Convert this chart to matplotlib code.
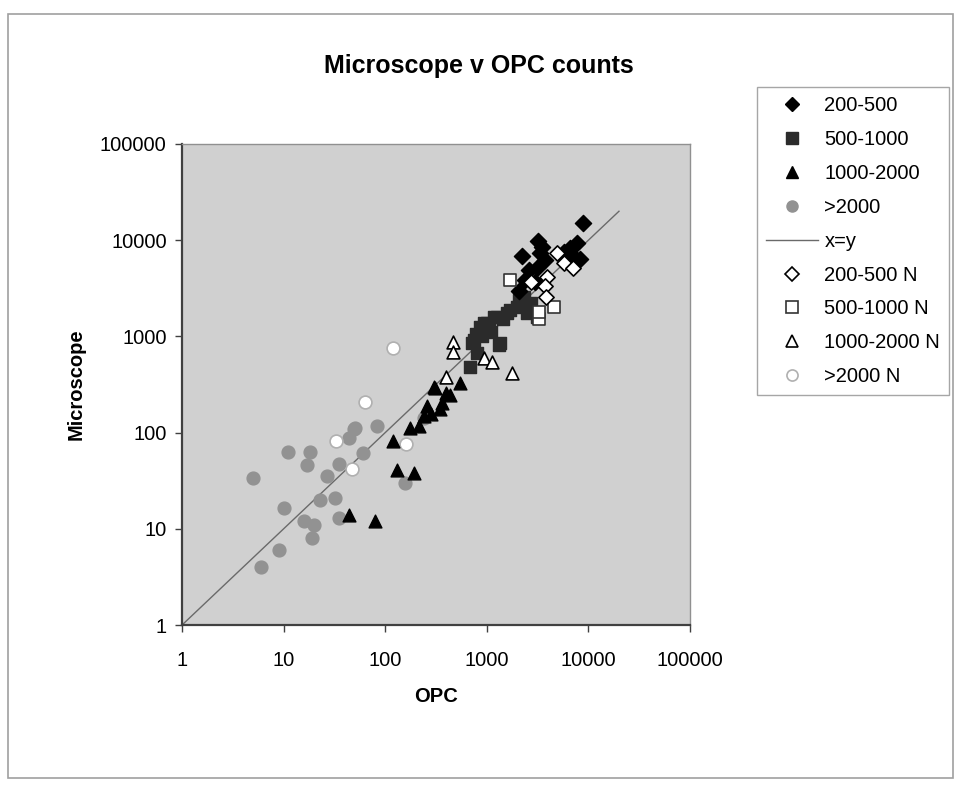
import matplotlib
matplotlib.use("Agg")
import matplotlib.pyplot as plt
from matplotlib.lines import Line2D
from matplotlib.patches import Rectangle

plt.rcParams['font.family'] = ['Liberation Sans', 'DejaVu Sans']

# size class 200-500
d_x = [8800, 3200, 2220, 3500, 7700, 6600, 5700, 8300, 7100, 3130, 2600, 3770, 3370, 2400, 3000, 2060]
d_y = [15200, 9800, 6860, 8500, 9300, 8200, 7600, 6450, 6800, 5100, 4900, 6220, 7300, 3860, 3710, 3000]
dn_x = [4900, 5800, 7100, 2750, 3920, 3700, 3800]
dn_y = [7300, 5750, 5100, 3710, 4170, 3320, 2550]

# size class 500-1000
sq_x = [715, 687, 863, 1260, 1360, 1700, 2060, 2490, 1000, 800, 3130, 2300, 740, 930,
        1310, 1167, 1585, 1990, 2140, 900, 1100, 780, 1050, 1450, 2700]
sq_y = [850, 484, 1260, 1590, 850, 1880, 2390, 1740, 1370, 667, 1590, 2570, 915, 1370,
        813, 1590, 1740, 2040, 2570, 1000, 1100, 1050, 1200, 1500, 2200]
sqn_x = [1700, 4540, 3240, 3240]
sqn_y = [3860, 2040, 1530, 1780]

# size class 1000-2000
tr_x = [44, 80, 130, 190, 120, 176, 214, 257, 310, 347, 437, 548, 300, 363, 240, 280, 400]
tr_y = [14, 12, 41, 38, 82, 111, 116, 190, 290, 178, 246, 330, 300, 202, 150, 155, 260]
trn_x = [470, 470, 400, 930, 1120, 1770]
trn_y = [880, 690, 380, 590, 545, 414]

# size class >2000
c_x = [5, 6, 9, 11, 10, 18, 17, 27, 35, 23, 32, 16, 20, 19, 35, 61, 50, 83, 44, 157, 240, 49]
c_y = [34, 4, 6, 63, 16.5, 63, 46, 35, 47, 20, 21, 12, 11, 8, 13, 61, 113, 117, 87, 30, 141, 110]
cn_x = [120, 63, 33, 47, 160]
cn_y = [750, 210, 82, 42, 77]

line_xy = [1, 20000]

fig = plt.figure(figsize=(9.55, 7.86), dpi=100)
fig.patch.set_facecolor('white')
fig.patches.append(Rectangle((8 / 955, 8 / 786), 945 / 955, 764 / 786, transform=fig.transFigure,
                             fill=False, edgecolor='#a0a0a0', linewidth=1.2))

ax = fig.add_axes([0.1906, 0.2048, 0.5319, 0.612])
ax.set_facecolor('#d0d0d0')
ax.set_xscale('log')
ax.set_yscale('log')
ax.set_xlim(1, 100000)
ax.set_ylim(1, 100000)

ms = 85
ax.plot(line_xy, line_xy, color='#6a6a6a', linewidth=1.0, zorder=2)
ax.scatter(c_x, c_y, marker='o', s=ms, color='#929292', edgecolors='#929292', zorder=3)
ax.scatter(cn_x, cn_y, marker='o', s=ms, facecolors='white', edgecolors='#b0b0b0', linewidths=1.2, zorder=3)
ax.scatter(tr_x, tr_y, marker='^', s=ms, color='black', zorder=4)
ax.scatter(sq_x, sq_y, marker='s', s=ms, color='#2b2b2b', zorder=4)
ax.scatter(d_x, d_y, marker='D', s=68, color='black', zorder=4)
ax.scatter(trn_x, trn_y, marker='^', s=ms, facecolors='white', edgecolors='black', linewidths=1.2, zorder=5)
ax.scatter(sqn_x, sqn_y, marker='s', s=ms, facecolors='white', edgecolors='#333333', linewidths=1.2, zorder=5)
ax.scatter(dn_x, dn_y, marker='D', s=60, facecolors='white', edgecolors='black', linewidths=1.2, zorder=5)

ticks = [1, 10, 100, 1000, 10000, 100000]
ax.set_xticks(ticks)
ax.set_xticklabels([str(t) for t in ticks])
ax.set_yticks(ticks)
ax.set_yticklabels([str(t) for t in ticks])
ax.minorticks_off()
ax.tick_params(axis='both', direction='out', length=5, width=1, color='#404040',
               labelsize=14.5)
ax.tick_params(axis='y', pad=6)
ax.tick_params(axis='x', pad=14)

for side in ['left', 'bottom']:
    ax.spines[side].set_color('#404040')
    ax.spines[side].set_linewidth(1.6)
for side in ['top', 'right']:
    ax.spines[side].set_color('#909090')
    ax.spines[side].set_linewidth(1.0)

ax.set_xlabel('OPC', fontsize=14.5, fontweight='bold', labelpad=12)
ax.set_ylabel('Microscope', fontsize=14.5, fontweight='bold', labelpad=10)
fig.text(479 / 955, 1 - 66 / 786, 'Microscope v OPC counts', fontsize=18, fontweight='bold',
         ha='center', va='center')

handles = [
    Line2D([], [], linestyle='none', marker='D', markersize=7, color='black'),
    Line2D([], [], linestyle='none', marker='s', markersize=8, color='#2b2b2b'),
    Line2D([], [], linestyle='none', marker='^', markersize=8, color='black'),
    Line2D([], [], linestyle='none', marker='o', markersize=8, color='#929292'),
    Line2D([], [], color='#6a6a6a', linewidth=1.0),
    Line2D([], [], linestyle='none', marker='D', markersize=7, markerfacecolor='white',
           markeredgecolor='black', markeredgewidth=1.2),
    Line2D([], [], linestyle='none', marker='s', markersize=8, markerfacecolor='white',
           markeredgecolor='#333333', markeredgewidth=1.2),
    Line2D([], [], linestyle='none', marker='^', markersize=8, markerfacecolor='white',
           markeredgecolor='black', markeredgewidth=1.2),
    Line2D([], [], linestyle='none', marker='o', markersize=8, markerfacecolor='white',
           markeredgecolor='#b0b0b0', markeredgewidth=1.2),
]
labels = ['200-500', '500-1000', '1000-2000', '>2000', 'x=y',
          '200-500 N', '500-1000 N', '1000-2000 N', '>2000 N']
leg = fig.legend(handles, labels, loc='upper left', bbox_to_anchor=(757 / 955, 1 - 87 / 786),
                 fontsize=14.5, frameon=True, fancybox=False, edgecolor='#909090',
                 labelspacing=0.74, handlelength=2.6, handletextpad=0.3, borderpad=0.45,
                 borderaxespad=0)
leg.get_frame().set_linewidth(1.0)

fig.savefig('out.png', dpi=100, facecolor='white')
